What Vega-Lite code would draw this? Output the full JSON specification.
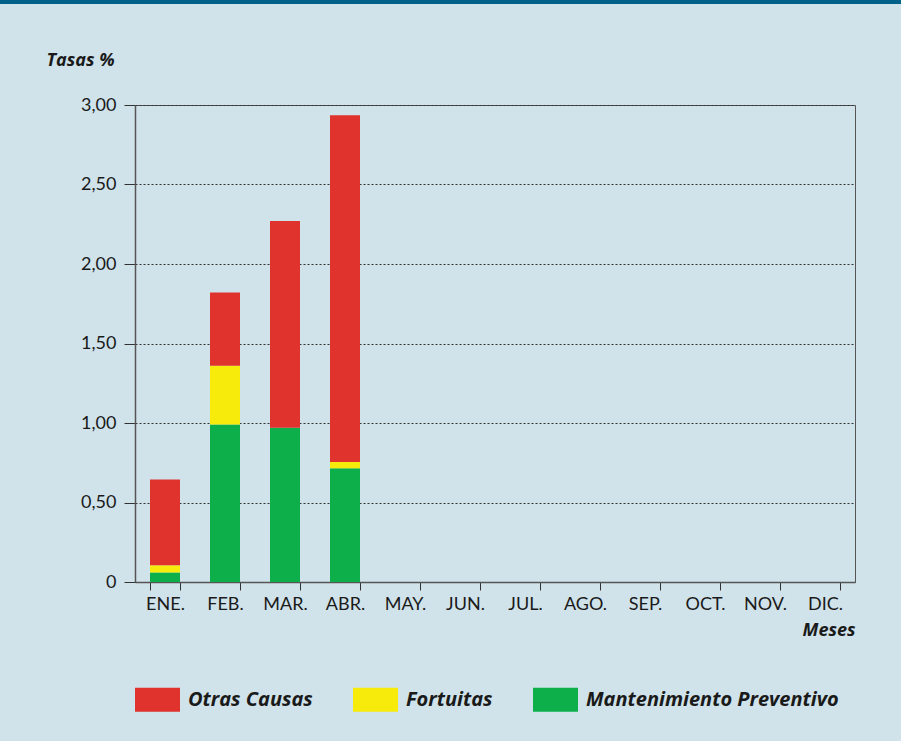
{
  "$schema": "https://vega.github.io/schema/vega-lite/v6.json",
  "width": 720,
  "height": 477,
  "autosize": {"type": "none"},
  "padding": {"left": 135, "top": 105, "right": 46, "bottom": 159},
  "background": "#d0e3eb",
  "config": {
    "view": {"stroke": "#555555", "strokeWidth": 1},
    "font": "Lato",
    "axis": {"labelFont": "Lato", "titleFont": "Open Sans"}
  },
  "data": {
    "values": [
      {"mes": "ENE.", "causa": "Mantenimiento Preventivo", "orden": 1, "tasa": 0.06},
      {"mes": "ENE.", "causa": "Fortuitas", "orden": 2, "tasa": 0.045},
      {"mes": "ENE.", "causa": "Otras Causas", "orden": 3, "tasa": 0.54},
      {"mes": "FEB.", "causa": "Mantenimiento Preventivo", "orden": 1, "tasa": 0.99},
      {"mes": "FEB.", "causa": "Fortuitas", "orden": 2, "tasa": 0.37},
      {"mes": "FEB.", "causa": "Otras Causas", "orden": 3, "tasa": 0.46},
      {"mes": "MAR.", "causa": "Mantenimiento Preventivo", "orden": 1, "tasa": 0.97},
      {"mes": "MAR.", "causa": "Fortuitas", "orden": 2, "tasa": 0.0},
      {"mes": "MAR.", "causa": "Otras Causas", "orden": 3, "tasa": 1.30},
      {"mes": "ABR.", "causa": "Mantenimiento Preventivo", "orden": 1, "tasa": 0.715},
      {"mes": "ABR.", "causa": "Fortuitas", "orden": 2, "tasa": 0.04},
      {"mes": "ABR.", "causa": "Otras Causas", "orden": 3, "tasa": 2.18}
    ]
  },
  "layer": [
    {
      "mark": {"type": "rule", "clip": false, "color": "#00628a", "strokeWidth": 6},
      "encoding": {
        "y": {"datum": 3.655, "type": "quantitative"},
        "x": {"value": -135},
        "x2": {"value": 766}
      }
    },
    {
      "mark": {"type": "bar"},
      "encoding": {
        "x": {
          "field": "mes",
          "type": "nominal",
          "sort": null,
          "scale": {
            "domain": ["ENE.", "FEB.", "MAR.", "ABR.", "MAY.", "JUN.", "JUL.", "AGO.", "SEP.", "OCT.", "NOV.", "DIC."],
            "paddingInner": 0.5,
            "paddingOuter": 0.25
          },
          "axis": {
            "title": "Meses",
            "titleFontStyle": "italic",
            "titleFontWeight": "bold",
            "titleFontSize": 18,
            "titleColor": "#1a1a1a",
            "titleAnchor": "end",
            "titlePadding": 8,
            "labelAngle": 0,
            "labelFontSize": 18,
            "labelColor": "#1a1a1a",
            "labelPadding": 5,
            "tickBand": "extent",
            "tickSize": 8,
            "tickColor": "#333333",
            "domainColor": "#555555",
            "domainWidth": 1.5
          }
        },
        "y": {
          "field": "tasa",
          "type": "quantitative",
          "aggregate": "sum",
          "stack": "zero",
          "scale": {"domain": [0, 3], "nice": false},
          "axis": {
            "title": "Tasas %",
            "titleAngle": 0,
            "titleAlign": "left",
            "titleBaseline": "middle",
            "titleX": -89,
            "titleY": -45,
            "titleFontStyle": "italic",
            "titleFontWeight": "bold",
            "titleFontSize": 18,
            "titleColor": "#1a1a1a",
            "values": [0, 0.5, 1, 1.5, 2, 2.5, 3],
            "labelExpr": "datum.value == 0 ? '0' : replace(format(datum.value, '.2f'), '.', ',')",
            "labelFontSize": 18,
            "labelColor": "#1a1a1a",
            "labelPadding": 8,
            "tickSize": 11,
            "tickColor": "#333333",
            "domainColor": "#555555",
            "domainWidth": 1.5,
            "grid": true,
            "gridColor": "#333333",
            "gridDash": [2, 2],
            "gridWidth": 1
          }
        },
        "color": {
          "field": "causa",
          "type": "nominal",
          "scale": {
            "domain": ["Otras Causas", "Fortuitas", "Mantenimiento Preventivo"],
            "range": ["#e0332e", "#f6eb0a", "#0daf4b"]
          },
          "legend": {
            "title": null,
            "orient": "none",
            "direction": "horizontal",
            "legendX": 0,
            "legendY": 572,
            "symbolType": "M-1,-0.53L1,-0.53L1,0.53L-1,0.53Z",
            "symbolSize": 2025,
            "symbolStrokeWidth": 0,
            "symbolOpacity": 1,
            "labelFont": "Open Sans",
            "labelFontSize": 20,
            "labelFontStyle": "italic",
            "labelFontWeight": "bold",
            "labelColor": "#1a1a1a",
            "labelOffset": 8,
            "columnPadding": 40,
            "labelLimit": 400
          }
        },
        "order": {"field": "orden", "type": "quantitative"}
      }
    }
  ]
}
